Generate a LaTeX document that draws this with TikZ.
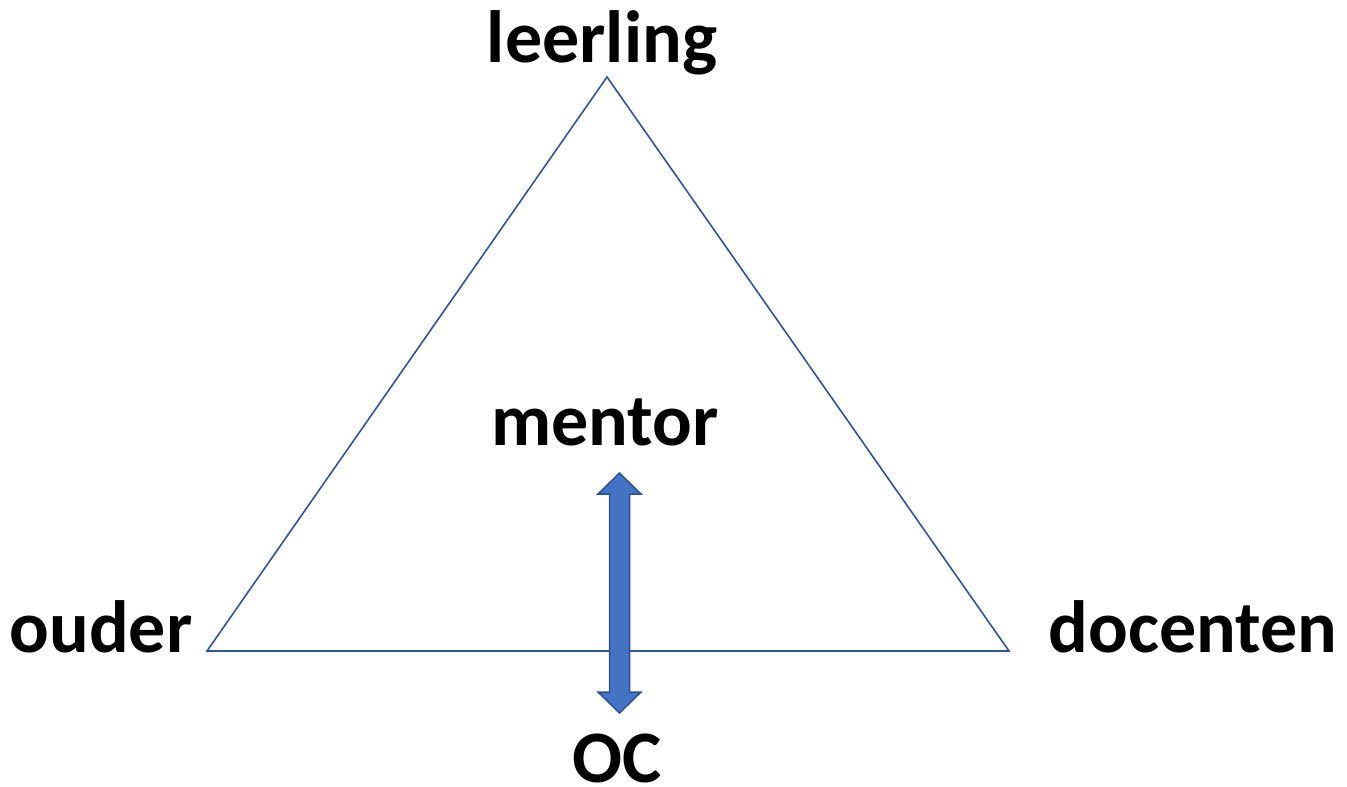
\documentclass[tikz,border=0pt]{standalone}
\usepackage{fontspec}
\setmainfont{Carlito}
\definecolor{triline}{HTML}{2F5597}
\definecolor{arrfill}{HTML}{4472C4}
\definecolor{arrline}{HTML}{2F528F}
\begin{document}
\begin{tikzpicture}[x=1pt,y=-1pt,
  lbl/.style={font=\fontsize{74}{76}\selectfont\bfseries, anchor=base, inner sep=0pt, text depth=0pt},
  tri/.style={draw=triline, line width=1.6pt, line join=miter}]
\useasboundingbox (0,0) rectangle (1347,787);
\coordinate (T) at (607,77);
\coordinate (L) at (207,651);
\coordinate (R) at (1009,651);
\draw[tri] (T) -- (L) -- (R) -- cycle;
\node[lbl] (leerling) at (602,62) {leerling};
\node[lbl] (mentor) at (605,445) {mentor};
\node[lbl] (ouder) at (101,652) {ouder};
\node[lbl] (docenten) at (1193,652) {docenten};
\node[lbl] (oc) at (617,782) {OC};
\coordinate (at) at (619.5,473);
\coordinate (ab) at (619.5,713);
\draw[fill=arrfill, draw=arrline, line width=1.5pt, line join=miter]
  (at) -- (641,494) -- (629.5,494) -- (629.5,692) -- (641,692) -- (ab)
  -- (598,692) -- (609.5,692) -- (609.5,494) -- (598,494) -- cycle;
\end{tikzpicture}
\end{document}
